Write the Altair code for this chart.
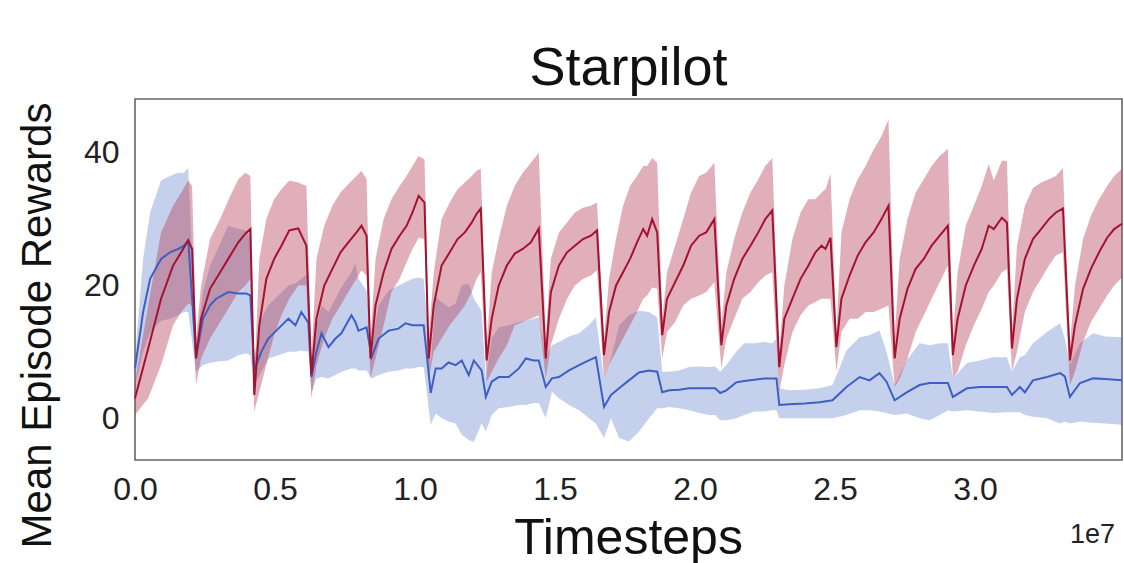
import altair as alt
import pandas as pd

# Timesteps are stored in millions; the x axis shows them in units of 1e7.
red_t = [0.00, 0.47, 0.93, 1.36, 1.65, 1.90, 2.04, 2.18,
         2.36, 2.68, 3.04, 3.40, 3.69, 3.94, 4.12, 4.26,
         4.44, 4.69, 4.97, 5.23, 5.51, 5.83, 6.12, 6.30,
         6.48, 6.76, 7.05, 7.34, 7.62, 7.91, 8.09, 8.27, 8.41,
         8.59, 8.88, 9.16, 9.45, 9.70, 9.91, 10.13, 10.34, 10.49,
         10.67, 10.95, 11.24, 11.52, 11.78, 12.03, 12.20, 12.35, 12.56,
         12.74, 12.99, 13.28, 13.56, 13.85, 14.14, 14.42, 14.67,
         14.85, 15.14, 15.43, 15.71, 16.00, 16.28, 16.50, 16.75,
         16.93, 17.18, 17.43, 17.68, 17.93, 18.15, 18.29, 18.47, 18.65, 18.83,
         19.00, 19.29, 19.58, 19.86, 20.15, 20.40, 20.69, 20.94,
         21.12, 21.40, 21.69, 21.98, 22.26, 22.51, 22.76, 23.01,
         23.19, 23.48, 23.77, 24.05, 24.30, 24.52, 24.66, 24.84, 25.05,
         25.23, 25.52, 25.81, 26.09, 26.38, 26.66, 26.91, 27.13,
         27.31, 27.59, 27.88, 28.17, 28.45, 28.74, 29.03, 29.21,
         29.38, 29.67, 29.96, 30.24, 30.49, 30.67, 30.96, 31.14, 31.32,
         31.50, 31.78, 32.07, 32.36, 32.64, 32.89, 33.14, 33.39,
         33.57, 33.86, 34.14, 34.43, 34.72, 34.97, 35.25]

red_mean = [3, 10.5, 18, 23, 25, 26.8, 25.5, 9,
            15, 19.5, 22, 24.5, 26.5, 27.8, 28.5, 3.5,
            14, 21, 24, 26, 28.3, 28.6, 26, 6.5,
            15, 20, 22.5, 25, 26.5, 28, 29, 27.5, 9,
            17, 22, 25.5, 27.5, 29, 31, 33.5, 32.5, 9,
            17, 23, 25, 27, 28, 29.5, 30.8, 31.6, 8.7,
            15, 20, 23, 24.8, 25.5, 26.5, 28.6, 9,
            19, 23, 25, 26, 27, 27.5, 28.3, 9.5,
            16, 20, 22, 24, 26.5, 28.5, 27.5, 30, 28, 12.5,
            18, 20.5, 23, 26, 27.5, 28, 30, 11,
            17, 21, 24, 26, 28, 30, 31.3, 7.7,
            15, 18, 21, 23, 25, 26, 25.5, 27.2, 10.7,
            18, 21.5, 24.5, 26.5, 28, 30, 32, 9,
            15, 19.5, 22.5, 24, 26, 27.5, 29, 9.5,
            15, 20, 23, 25.5, 29, 28.5, 30.2, 29.5, 10.5,
            18, 24, 27, 28.5, 30, 31, 31.6, 8.7,
            14, 19.5, 22.5, 25, 27.2, 28.5, 29.3]

red_lo = [0.5, 3, 8, 14, 16, 17.3, 17, 5,
          9, 12, 14.5, 17, 19, 20, 21, 1,
          4, 8, 12.5, 15.5, 18, 20, 20, 3,
          8, 12, 15, 17, 19, 21, 22.3, 21.5, 6,
          9, 14, 19, 21, 23.5, 25.5, 27.2, 27, 6,
          10, 12, 14, 15.5, 17, 19, 21, 22, 5.5,
          7, 9, 11, 14, 14.5, 15, 15.5, 6,
          11, 15, 18, 20, 21, 21.5, 22.3, 6,
          8, 10, 12, 14, 16, 18, 18.5, 19.7, 19.5, 9,
          13, 14.5, 17, 18, 18.5, 19, 20.5, 7.5,
          12, 15, 18, 19, 20.5, 21.5, 22, 4,
          8, 13, 15.5, 17, 17.5, 18, 18, 18, 7,
          13, 15, 15, 16, 16, 16.5, 17, 4.7,
          6, 9, 13, 15.5, 18, 20.5, 23, 6,
          7, 11, 14, 16.5, 19, 20, 22, 22.5, 7,
          10, 16, 19, 21, 23, 24.5, 25, 5,
          7, 11.5, 14.5, 16.5, 18.5, 20, 21.2]

red_hi = [5.5, 17, 28, 32, 34, 35.8, 35, 12,
          20, 27, 30, 33.5, 36, 37, 36.5, 6,
          24, 30, 33, 34.5, 35.8, 35.5, 35, 9,
          24, 29, 32, 34, 35.3, 36.5, 37.3, 36, 12,
          24, 30, 33, 35, 36.5, 38, 39.5, 39, 12,
          22, 30, 32.5, 34.5, 35.5, 36.5, 37.3, 37.6, 11,
          22, 27, 32, 35, 37, 38.5, 40, 12,
          24, 28, 29.5, 31, 31.7, 32, 32.5, 12,
          21, 27, 32, 35, 36.5, 38, 38, 39.2, 38.5, 15,
          22, 26, 30, 34, 36.5, 37, 38.5, 14,
          22, 27, 31, 34, 36, 38, 39.2, 10,
          20, 27, 31, 33, 33, 34, 34.5, 36.8, 13,
          28, 33, 36, 38, 40.5, 42.5, 45, 12,
          24, 30, 34, 36, 38, 39.5, 40.6, 12,
          22, 29, 32, 35, 38.3, 35.8, 38.8, 38.8, 13,
          26, 32, 34.7, 35.5, 36, 36.5, 37.7, 11,
          20, 27, 30.5, 33, 35, 36.5, 37.6]

blue_t = [0.00, 0.29, 0.54, 0.93, 1.25, 1.54, 1.75, 1.90, 2.18,
          2.43, 2.68, 2.90, 3.33, 3.69, 3.97, 4.12, 4.26,
          4.51, 4.76, 5.12, 5.48, 5.73, 5.94, 6.19, 6.30,
          6.48, 6.66, 6.91, 7.16, 7.37, 7.73, 7.87, 7.98, 8.27, 8.45,
          8.70, 9.06, 9.41, 9.66, 9.91, 10.13, 10.31, 10.56,
          10.74, 10.95, 11.20, 11.45, 11.67, 11.92, 12.10, 12.38, 12.53,
          12.74, 12.99, 13.35, 13.71, 13.96, 14.24, 14.42, 14.67,
          14.89, 15.14, 15.50, 15.86, 16.21, 16.46, 16.75,
          17.00, 17.29, 17.64, 18.00, 18.36, 18.65, 18.83,
          19.08, 19.43, 19.79, 20.15, 20.51, 20.72, 20.90,
          21.12, 21.47, 21.76, 22.12, 22.48, 22.76, 22.91, 23.01,
          23.37, 23.91, 24.45, 24.91, 25.41, 25.88, 26.23, 26.59, 26.84, 27.13,
          27.56, 28.02, 28.38, 28.74, 29.03, 29.21,
          29.71, 30.17, 30.64, 31.14, 31.32,
          31.60, 31.78, 32.07, 32.57, 33.04, 33.21, 33.39,
          33.75, 34.22, 34.65, 35.25]

blue_mean = [7.5, 16, 21, 24, 25, 25.5, 26, 26.8, 9.2,
             15, 17, 18, 19, 18.8, 18.8, 18.5, 7.2,
             10, 12, 13.5, 15, 14, 16, 14.4, 6.2,
             10, 12.8, 10.7, 12, 12.8, 15.5, 14.5, 13.2, 13.7, 9.2,
             12, 13.2, 13.5, 14.3, 14, 14, 14, 3.8,
             7.5, 7.5, 8.4, 8, 8.7, 6.5, 8.7, 7.2, 3.2,
             5.5, 6.2, 6.2, 7.5, 9, 8.7, 8.7, 4.7,
             6, 6.2, 7.2, 8, 8.7, 9.2, 1.7,
             3.5, 4.5, 5.7, 6.9, 7.2, 7, 3.9,
             4.2, 4.3, 4.5, 4.5, 4.5, 4.5, 3.8,
             4.2, 5.4, 5.6, 5.8, 6, 6, 6, 2,
             2.1, 2.2, 2.4, 2.7, 4.7, 6.2, 5.7, 6.8, 5.5, 2.7,
             3.9, 5, 5.3, 5.3, 5.3, 3.2,
             4.5, 4.7, 4.7, 4.7, 3.5,
             4.7, 3.9, 5.7, 6.2, 6.8, 6.3, 3.2,
             5.3, 6, 5.9, 5.7]

blue_lo = [5, 10, 13, 14.7, 15, 15.5, 16, 16, 7,
           8, 8.3, 8.5, 8.7, 9.5, 9.8, 9.5, 5,
           7, 9, 9.5, 10, 10, 10.2, 10, 4,
           6, 6.2, 6, 6.5, 7, 7.5, 7.5, 7.2, 7.2, 6,
           6.5, 7, 7.2, 7.5, 7.5, 7.7, 7.7, -1,
           0.7, 0, -0.5, -0.8, -2.5, -3.3, -3.6, -0.8, -2,
           0.5, 1.5, 1.7, 2, 2, 2.3, 2.3, 0,
           4, 3, 2, 1.2, 0, -0.8, -3,
           0, -3, -3.5, -2, 0, 1.5, 1.5,
           1.7, 1.5, 1.2, 0.8, 0.5, 0.5, -0.3,
           -0.3, 0, 0.5, 1, 1, 1.2, 1.2, 0,
           0, 0, 0, 0, 0.5, 1.2, 1.2, 1, 0.8, 0.5,
           0.7, 0, -0.3, 0.5, 1.2, 1,
           1.2, 1, 0.8, 0.9, 0.9,
           0.9, 0.5, 0.2, 0, -0.8, -0.5, -0.8,
           -0.5, -0.7, -0.8, -1]

blue_hi = [9, 24, 31, 35.8, 36.5, 37, 37, 37.7, 11,
           19, 23, 25, 29, 28.5, 28.3, 27, 9,
           15, 17, 18.5, 20, 20.3, 21, 21.8, 8,
           14, 17, 16, 18, 19.7, 22, 23.3, 21, 19.2, 11,
           17, 19.2, 20, 20.5, 21, 21.2, 21, 8,
           18.2, 17.5, 16.7, 17.3, 20, 20.3, 18, 16.2, 6,
           12, 13.7, 14, 14.5, 14.7, 15, 15.2, 9,
           11, 11.5, 12.3, 12.8, 14, 15.2, 6,
           9, 14, 15.5, 16.2, 16, 15.2, 7,
           7, 7.2, 7.7, 7.8, 7.7, 7.8, 7,
           8, 10, 11.3, 11.3, 11.5, 11.3, 12, 4.5,
           4.2, 4.3, 4.5, 5, 10.2, 12.2, 12.5, 13.2, 10, 5,
           8.7, 11.3, 11, 11.3, 11.3, 6,
           8.3, 8.7, 9.2, 9.2, 7,
           9.2, 9.5, 11.3, 13, 14.3, 12, 8,
           11.3, 12.8, 12.3, 12.2]

x_ticks = [0.0, 0.5, 1.0, 1.5, 2.0, 2.5, 3.0]
y_ticks = [0, 20, 40]

red = pd.DataFrame({"x": [t / 10 for t in red_t], "mean": red_mean,
                    "lo": red_lo, "hi": red_hi})
blue = pd.DataFrame({"x": [t / 10 for t in blue_t], "mean": blue_mean,
                     "lo": blue_lo, "hi": blue_hi})

FONT = "Liberation Sans"
W, H = 987, 361

x_enc = alt.X(
    "x:Q",
    scale=alt.Scale(domain=[0, 3.525], nice=False, zero=False),
    axis=alt.Axis(
        values=x_ticks, format=".1f", title="Timesteps",
        labelFontSize=32, labelPadding=14, labelColor="#222222",
        titleFontSize=50, titleFontWeight="normal", titleColor="#111111",
        titleBaseline="alphabetic", titleX=493, titleY=93, titleAlign="center",
        ticks=False, domain=False, grid=False, labelFlush=False,
    ),
)
y_scale = alt.Scale(domain=[-6.3, 48.1], nice=False, zero=False)
y_axis = alt.Axis(
    values=y_ticks, title="Mean Episode Rewards",
    labelFontSize=32, labelPadding=16, labelColor="#222222",
    titleFontSize=42, titleFontWeight="normal", titleColor="#111111",
    titleAngle=-90, titleBaseline="alphabetic", titleAlign="center",
    titleX=-85, titleY=226,
    ticks=False, domain=False, grid=False,
)

def band(df, color, opacity):
    return alt.Chart(df).mark_area(color=color, opacity=opacity).encode(
        x=x_enc,
        y=alt.Y("lo:Q", scale=y_scale, axis=y_axis),
        y2="hi:Q",
    )

def line(df, color):
    return alt.Chart(df).mark_line(color=color, strokeWidth=2).encode(
        x=x_enc,
        y=alt.Y("mean:Q", scale=y_scale, axis=y_axis),
    )

def label(text, size, x, y, align, color):
    return alt.Chart(pd.DataFrame({"t": [text]})).mark_text(
        font=FONT, fontSize=size, align=align, baseline="alphabetic", color=color
    ).encode(text="t:N", x=alt.value(x), y=alt.value(y))

title_mark = label("Starpilot", 54, 493.5, -14, "center", "#111111")
exp_label = label("1e7", 27, 980, 444, "right", "#222222")

chart = alt.layer(
    band(blue, "#4a6cc8", 0.32),
    band(red, "#b5364f", 0.4),
    line(blue, "#3d5fc4"),
    line(red, "#a3122f"),
    title_mark,
    exp_label,
).properties(
    width=W, height=H,
    autosize=alt.AutoSizeParams(type="none"),
    padding={"left": 135, "top": 99, "right": 2, "bottom": 103},
).configure(
    font=FONT,
    background="white",
).configure_view(
    stroke="#666666", strokeWidth=1.6,
).configure_axis(
    labelFont=FONT, titleFont=FONT,
)

chart.save("out.html", embed_options={"renderer": "svg", "actions": False})
